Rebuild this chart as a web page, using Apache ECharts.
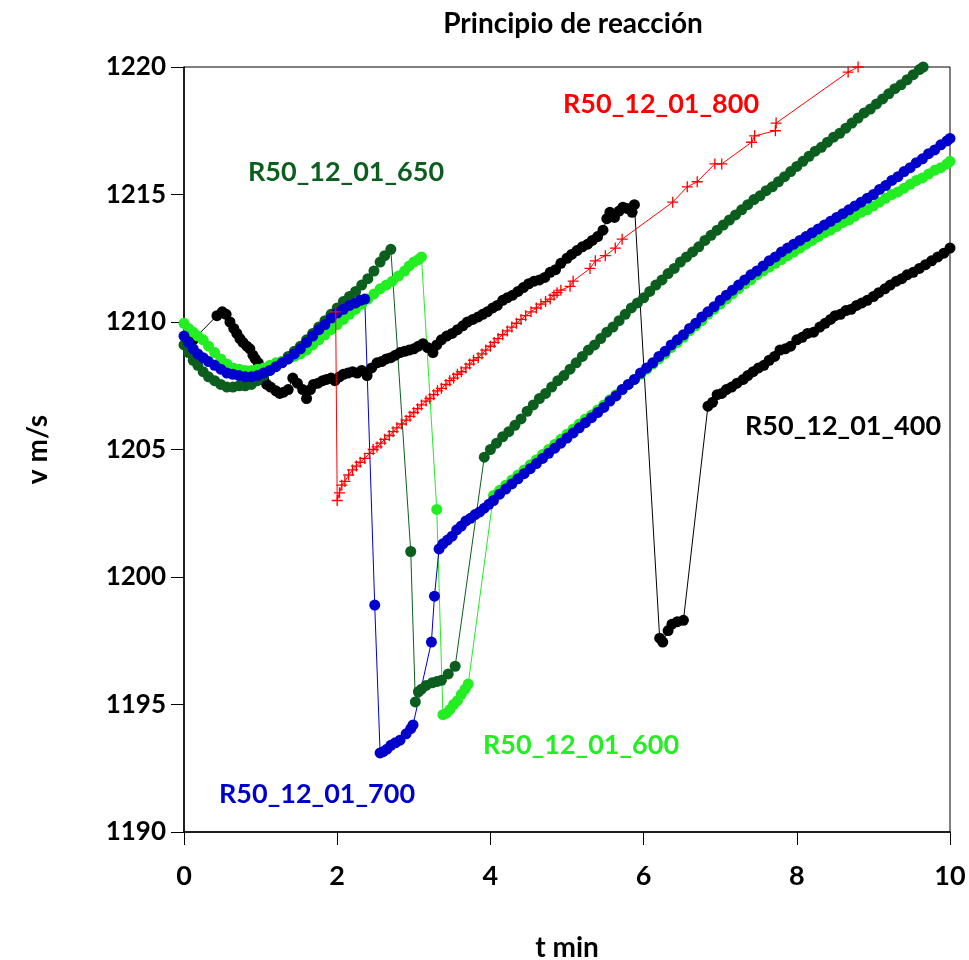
<!DOCTYPE html>
<html>
<head>
<meta charset="utf-8">
<script src="https://cdn.jsdelivr.net/npm/echarts@6/dist/echarts.min.js"></script>
<style>
  html, body { margin: 0; padding: 0; background: #fff; }
  #chart { width: 969px; height: 960px; }
</style>
</head>
<body>
<div id="chart"></div>
<script>
// Axis settings
const xTicks = [0, 2, 4, 6, 8, 10];
const yTicks = [1190, 1195, 1200, 1205, 1210, 1215, 1220];

// Series names
const seriesNames = ['R50_12_01_400', 'R50_12_01_650', 'R50_12_01_600', 'R50_12_01_700', 'R50_12_01_800'];

// [t min, v m/s] readings for each run
const run400 = [[0.12,1209.3],[0.43,1210.25],[0.5,1210.4],[0.55,1210.3],[0.6,1210.0],[0.65,1209.75],[0.69,1209.55],[0.73,1209.35],[0.77,1209.2],[0.82,1209.05],[0.86,1208.95],[0.9,1208.7],[0.93,1208.55],[0.97,1208.4],[1.0,1208.2],[1.04,1207.75],[1.08,1207.55],[1.13,1207.45],[1.2,1207.3],[1.25,1207.2],[1.3,1207.25],[1.36,1207.35],[1.42,1207.8],[1.48,1207.6],[1.55,1207.35],[1.6,1207.0],[1.65,1207.35],[1.69,1207.55],[1.75,1207.6],[1.81,1207.7],[1.86,1207.75],[1.92,1207.8],[1.97,1207.7],[2.03,1207.85],[2.08,1207.95],[2.14,1208.0],[2.2,1208.05],[2.26,1208.0],[2.32,1208.1],[2.39,1207.9],[2.45,1208.2],[2.52,1208.4],[2.58,1208.45],[2.64,1208.55],[2.7,1208.6],[2.76,1208.7],[2.82,1208.8],[2.88,1208.85],[2.94,1208.9],[3.0,1208.95],[3.06,1209.05],[3.12,1209.15],[3.18,1209.0],[3.25,1208.8],[3.3,1209.1],[3.36,1209.3],[3.43,1209.45],[3.5,1209.55],[3.57,1209.7],[3.64,1209.85],[3.7,1210.0],[3.77,1210.1],[3.84,1210.2],[3.9,1210.3],[3.96,1210.4],[4.03,1210.55],[4.09,1210.65],[4.16,1210.85],[4.22,1210.95],[4.29,1211.05],[4.36,1211.2],[4.43,1211.35],[4.5,1211.5],[4.57,1211.6],[4.64,1211.65],[4.71,1211.75],[4.78,1211.95],[4.85,1212.05],[4.92,1212.3],[5.0,1212.5],[5.06,1212.65],[5.13,1212.8],[5.2,1212.95],[5.27,1213.05],[5.33,1213.2],[5.4,1213.35],[5.47,1213.6],[5.52,1214.05],[5.56,1214.3],[5.62,1214.1],[5.68,1214.35],[5.73,1214.5],[5.79,1214.45],[5.85,1214.3],[5.88,1214.6],[6.21,1197.6],[6.25,1197.45],[6.32,1197.9],[6.37,1198.15],[6.44,1198.25],[6.52,1198.3],[6.84,1206.7],[6.9,1206.85],[6.96,1207.15],[7.02,1207.2],[7.08,1207.35],[7.15,1207.45],[7.22,1207.6],[7.3,1207.75],[7.36,1207.9],[7.43,1208.05],[7.5,1208.2],[7.57,1208.3],[7.64,1208.5],[7.71,1208.65],[7.78,1208.9],[7.85,1208.95],[7.92,1209.05],[8.0,1209.3],[8.07,1209.4],[8.14,1209.55],[8.22,1209.6],[8.3,1209.8],[8.37,1209.95],[8.44,1210.1],[8.5,1210.25],[8.57,1210.3],[8.64,1210.45],[8.71,1210.5],[8.78,1210.65],[8.85,1210.75],[8.92,1210.85],[9.0,1211.0],[9.07,1211.15],[9.15,1211.3],[9.22,1211.45],[9.3,1211.6],[9.37,1211.7],[9.44,1211.85],[9.52,1211.95],[9.6,1212.1],[9.68,1212.25],[9.76,1212.4],[9.84,1212.55],[9.92,1212.7],[10.0,1212.9]];

const run650 = [[0,1209.1],[0.06,1208.8],[0.12,1208.5],[0.18,1208.3],[0.25,1208.05],[0.32,1207.85],[0.4,1207.7],[0.48,1207.55],[0.56,1207.45],[0.64,1207.45],[0.72,1207.5],[0.8,1207.5],[0.88,1207.55],[0.96,1207.7],[1.04,1207.9],[1.12,1208.1],[1.2,1208.3],[1.28,1208.45],[1.36,1208.65],[1.44,1208.85],[1.52,1209.05],[1.6,1209.3],[1.68,1209.55],[1.76,1209.8],[1.84,1210.05],[1.92,1210.3],[2.0,1210.55],[2.08,1210.8],[2.16,1211.0],[2.24,1211.2],[2.32,1211.45],[2.4,1211.7],[2.48,1212.0],[2.56,1212.35],[2.62,1212.6],[2.7,1212.85],[2.96,1201.0],[3.02,1195.1],[3.06,1195.5],[3.1,1195.6],[3.16,1195.75],[3.24,1195.85],[3.3,1195.9],[3.36,1195.95],[3.45,1196.2],[3.54,1196.5],[3.92,1204.7],[4.0,1205.0],[4.08,1205.25],[4.16,1205.5],[4.24,1205.7],[4.32,1205.95],[4.4,1206.2],[4.48,1206.5],[4.56,1206.75],[4.64,1207.0],[4.72,1207.2],[4.8,1207.45],[4.88,1207.7],[4.96,1207.9],[5.04,1208.15],[5.12,1208.4],[5.2,1208.65],[5.28,1208.9],[5.36,1209.1],[5.44,1209.35],[5.52,1209.6],[5.6,1209.8],[5.68,1210.05],[5.76,1210.3],[5.84,1210.55],[5.92,1210.75],[6.0,1210.95],[6.08,1211.2],[6.16,1211.45],[6.24,1211.65],[6.32,1211.9],[6.4,1212.1],[6.48,1212.35],[6.56,1212.55],[6.64,1212.75],[6.72,1212.95],[6.8,1213.2],[6.88,1213.4],[6.96,1213.6],[7.04,1213.8],[7.12,1214.0],[7.2,1214.2],[7.28,1214.4],[7.36,1214.6],[7.44,1214.8],[7.52,1214.95],[7.6,1215.15],[7.68,1215.3],[7.76,1215.5],[7.84,1215.7],[7.92,1215.9],[8.0,1216.1],[8.08,1216.3],[8.16,1216.5],[8.24,1216.7],[8.32,1216.85],[8.4,1217.05],[8.48,1217.25],[8.56,1217.4],[8.64,1217.6],[8.72,1217.8],[8.8,1218.0],[8.88,1218.2],[8.96,1218.35],[9.04,1218.55],[9.12,1218.75],[9.2,1218.95],[9.28,1219.15],[9.36,1219.3],[9.44,1219.5],[9.52,1219.7],[9.6,1219.9],[9.65,1220.0]];

const run600 = [[0,1209.95],[0.06,1209.75],[0.12,1209.6],[0.18,1209.45],[0.25,1209.3],[0.32,1209.05],[0.4,1208.8],[0.48,1208.55],[0.56,1208.35],[0.64,1208.2],[0.72,1208.15],[0.8,1208.1],[0.88,1208.1],[0.96,1208.15],[1.04,1208.2],[1.12,1208.3],[1.2,1208.4],[1.28,1208.45],[1.36,1208.55],[1.44,1208.65],[1.52,1208.75],[1.6,1208.9],[1.68,1209.1],[1.76,1209.3],[1.84,1209.5],[1.92,1209.7],[2.0,1209.9],[2.08,1210.1],[2.16,1210.3],[2.24,1210.5],[2.32,1210.7],[2.4,1210.9],[2.48,1211.1],[2.56,1211.3],[2.64,1211.45],[2.72,1211.6],[2.8,1211.8],[2.88,1212.0],[2.94,1212.2],[3.0,1212.35],[3.06,1212.45],[3.1,1212.55],[3.3,1202.65],[3.38,1194.6],[3.42,1194.65],[3.47,1194.8],[3.52,1195.0],[3.57,1195.15],[3.62,1195.4],[3.67,1195.6],[3.71,1195.8],[4.04,1203.2],[4.12,1203.4],[4.2,1203.6],[4.28,1203.8],[4.36,1204.0],[4.44,1204.2],[4.52,1204.4],[4.6,1204.6],[4.68,1204.8],[4.76,1205.0],[4.84,1205.2],[4.92,1205.4],[5.0,1205.6],[5.08,1205.8],[5.16,1206.0],[5.24,1206.2],[5.32,1206.35],[5.4,1206.55],[5.48,1206.75],[5.56,1206.95],[5.64,1207.15],[5.72,1207.35],[5.8,1207.55],[5.88,1207.75],[5.96,1207.95],[6.04,1208.15],[6.12,1208.35],[6.2,1208.55],[6.28,1208.75],[6.36,1209.0],[6.44,1209.2],[6.52,1209.4],[6.6,1209.65],[6.68,1209.85],[6.76,1210.05],[6.84,1210.3],[6.92,1210.5],[7.0,1210.7],[7.08,1210.9],[7.16,1211.1],[7.24,1211.3],[7.32,1211.5],[7.4,1211.65],[7.48,1211.85],[7.56,1212.0],[7.64,1212.15],[7.72,1212.3],[7.8,1212.45],[7.88,1212.6],[7.96,1212.75],[8.04,1212.9],[8.12,1213.05],[8.2,1213.2],[8.28,1213.35],[8.36,1213.5],[8.44,1213.6],[8.52,1213.75],[8.6,1213.9],[8.68,1214.0],[8.76,1214.15],[8.84,1214.3],[8.92,1214.4],[9.0,1214.55],[9.08,1214.7],[9.16,1214.85],[9.24,1215.0],[9.32,1215.1],[9.4,1215.25],[9.48,1215.4],[9.56,1215.55],[9.64,1215.65],[9.72,1215.8],[9.8,1215.95],[9.88,1216.05],[9.96,1216.2],[10.0,1216.3]];

const run700 = [[0,1209.45],[0.06,1209.2],[0.12,1208.95],[0.18,1208.75],[0.25,1208.6],[0.32,1208.45],[0.4,1208.3],[0.48,1208.15],[0.56,1208.0],[0.64,1207.95],[0.72,1207.9],[0.8,1207.85],[0.88,1207.85],[0.96,1207.9],[1.04,1208.0],[1.12,1208.1],[1.2,1208.25],[1.28,1208.4],[1.36,1208.55],[1.44,1208.75],[1.52,1208.95],[1.6,1209.2],[1.68,1209.45],[1.76,1209.7],[1.84,1209.9],[1.92,1210.15],[2.0,1210.35],[2.08,1210.5],[2.16,1210.65],[2.24,1210.75],[2.3,1210.85],[2.36,1210.9],[2.49,1198.9],[2.56,1193.1],[2.6,1193.15],[2.65,1193.25],[2.7,1193.4],[2.76,1193.5],[2.82,1193.6],[2.9,1193.85],[2.96,1194.05],[2.99,1194.2],[3.23,1197.45],[3.27,1199.25],[3.33,1201.1],[3.38,1201.3],[3.44,1201.45],[3.5,1201.6],[3.56,1201.85],[3.62,1202.0],[3.68,1202.2],[3.74,1202.3],[3.8,1202.45],[3.86,1202.55],[3.92,1202.7],[3.98,1202.85],[4.04,1203.0],[4.12,1203.25],[4.2,1203.45],[4.28,1203.65],[4.36,1203.85],[4.44,1204.05],[4.52,1204.25],[4.6,1204.45],[4.68,1204.65],[4.76,1204.85],[4.84,1205.05],[4.92,1205.25],[5.0,1205.45],[5.08,1205.65],[5.16,1205.85],[5.24,1206.05],[5.32,1206.25],[5.4,1206.45],[5.48,1206.65],[5.56,1206.9],[5.64,1207.1],[5.72,1207.35],[5.8,1207.55],[5.88,1207.75],[5.96,1208.0],[6.04,1208.2],[6.12,1208.4],[6.2,1208.65],[6.28,1208.85],[6.36,1209.1],[6.44,1209.3],[6.52,1209.5],[6.6,1209.75],[6.68,1209.95],[6.76,1210.2],[6.84,1210.4],[6.92,1210.6],[7.0,1210.85],[7.08,1211.05],[7.16,1211.25],[7.24,1211.45],[7.32,1211.65],[7.4,1211.85],[7.48,1212.0],[7.56,1212.2],[7.64,1212.4],[7.72,1212.55],[7.8,1212.75],[7.88,1212.9],[7.96,1213.05],[8.04,1213.2],[8.12,1213.35],[8.2,1213.5],[8.28,1213.65],[8.36,1213.8],[8.44,1213.95],[8.52,1214.1],[8.6,1214.25],[8.68,1214.4],[8.76,1214.55],[8.84,1214.7],[8.92,1214.85],[9.0,1215.0],[9.08,1215.2],[9.16,1215.35],[9.24,1215.55],[9.32,1215.7],[9.4,1215.9],[9.48,1216.05],[9.56,1216.25],[9.64,1216.4],[9.72,1216.6],[9.8,1216.75],[9.88,1216.95],[9.96,1217.1],[10.0,1217.2]];

const run800 = [[1.98,1210.4],[2.0,1203.0],[2.03,1203.3],[2.06,1203.6],[2.1,1203.75],[2.15,1204.0],[2.2,1204.2],[2.25,1204.35],[2.3,1204.5],[2.36,1204.65],[2.42,1204.85],[2.47,1205.0],[2.52,1205.1],[2.57,1205.25],[2.62,1205.4],[2.68,1205.55],[2.73,1205.7],[2.78,1205.85],[2.84,1206.0],[2.9,1206.15],[2.95,1206.3],[3.0,1206.45],[3.05,1206.6],[3.1,1206.75],[3.16,1206.9],[3.21,1207.0],[3.26,1207.15],[3.31,1207.3],[3.36,1207.4],[3.42,1207.55],[3.47,1207.7],[3.52,1207.8],[3.57,1207.95],[3.62,1208.05],[3.68,1208.2],[3.73,1208.35],[3.78,1208.5],[3.84,1208.6],[3.89,1208.75],[3.94,1208.9],[4.0,1209.05],[4.05,1209.2],[4.1,1209.35],[4.16,1209.5],[4.22,1209.65],[4.28,1209.8],[4.34,1209.95],[4.4,1210.1],[4.46,1210.25],[4.53,1210.4],[4.6,1210.55],[4.66,1210.7],[4.72,1210.8],[4.78,1210.9],[4.83,1211.05],[4.87,1211.15],[4.92,1211.25],[5.04,1211.4],[5.08,1211.6],[5.3,1212.1],[5.37,1212.4],[5.5,1212.6],[5.63,1212.9],[5.72,1213.25],[6.38,1214.7],[6.57,1215.3],[6.7,1215.5],[6.93,1216.2],[7.02,1216.2],[7.41,1217.05],[7.45,1217.3],[7.72,1217.5],[7.73,1217.8],[8.67,1219.8],[8.8,1220.0]];

// Colours per run
const colors = {
  r400: '#000000',
  r650: '#0b5e1e',
  r600: '#22ee22',
  r700: '#0000cc',
  r800: '#ff0000'
};

const FONT = 'Lato';
const plusPath = 'path://M4.4,0 L5.6,0 L5.6,4.4 L10,4.4 L10,5.6 L5.6,5.6 L5.6,10 L4.4,10 L4.4,5.6 L0,5.6 L0,4.4 L4.4,4.4 Z';

function dotSeries(name, data, color) {
  return {
    name: name,
    type: 'line',
    data: data,
    symbol: 'circle',
    symbolSize: 11,
    showAllSymbol: true,
    itemStyle: { color: color },
    lineStyle: { color: color, width: 1 },
    emphasis: { disabled: true },
    z: 2
  };
}

const chart = echarts.init(document.getElementById('chart'), null, { renderer: 'canvas' });

chart.setOption({
  animation: false,
  backgroundColor: '#ffffff',
  title: {
    text: 'Principio de reacción',
    left: 568,
    top: 5,
    textAlign: 'center',
    textStyle: { fontFamily: FONT, fontWeight: 'bold', fontSize: 28, color: '#000' }
  },
  grid: {
    left: 184, right: 19, top: 67, bottom: 128,
    outerBoundsMode: 'none',
    containLabel: false,
    show: true, borderColor: '#000', borderWidth: 1, backgroundColor: 'transparent'
  },
  xAxis: {
    type: 'value',
    min: xTicks[0], max: xTicks[xTicks.length - 1], interval: 2,
    name: 't min', nameLocation: 'middle', nameGap: 102,
    nameTextStyle: { fontFamily: FONT, fontWeight: 'bold', fontSize: 28, color: '#000' },
    axisLine: { show: true, onZero: false, lineStyle: { color: '#000', width: 1.5 } },
    axisTick: { show: true, inside: false, length: 13, lineStyle: { color: '#000', width: 1 } },
    axisLabel: { margin: 31, fontFamily: FONT, fontWeight: 'bold', fontSize: 27, color: '#000',
                 formatter: v => String(v) },
    splitLine: { show: false }
  },
  yAxis: {
    type: 'value',
    min: yTicks[0], max: yTicks[yTicks.length - 1], interval: 5,
    name: 'v m/s', nameLocation: 'middle', nameGap: 132,
    nameTextStyle: { fontFamily: FONT, fontWeight: 'bold', fontSize: 28, color: '#000' },
    axisLine: { show: true, onZero: false, lineStyle: { color: '#000', width: 1.5 } },
    axisTick: { show: true, inside: false, length: 13, lineStyle: { color: '#000', width: 1 } },
    axisLabel: { margin: 18, fontFamily: FONT, fontWeight: 'bold', fontSize: 26, color: '#000',
                 formatter: v => String(v) },
    splitLine: { show: false }
  },
  series: [
    dotSeries(seriesNames[0], run400, colors.r400),
    dotSeries(seriesNames[1], run650, colors.r650),
    dotSeries(seriesNames[2], run600, colors.r600),
    dotSeries(seriesNames[3], run700, colors.r700),
    {
      name: seriesNames[4],
      type: 'line',
      data: run800,
      symbol: plusPath,
      symbolSize: 11,
      showAllSymbol: true,
      itemStyle: { color: colors.r800 },
      lineStyle: { color: colors.r800, width: 1 },
      emphasis: { disabled: true },
      z: 3
    }
  ],
  graphic: [
    { type: 'text', left: 248, top: 159, style: { text: seriesNames[1], fill: colors.r650, font: 'bold 27px Lato' } },
    { type: 'text', left: 563, top: 91, style: { text: seriesNames[4], fill: colors.r800, font: 'bold 27px Lato' } },
    { type: 'text', left: 745, top: 413, style: { text: seriesNames[0], fill: colors.r400, font: 'bold 27px Lato' } },
    { type: 'text', left: 483, top: 732, style: { text: seriesNames[2], fill: colors.r600, font: 'bold 27px Lato' } },
    { type: 'text', left: 219, top: 781, style: { text: seriesNames[3], fill: colors.r700, font: 'bold 27px Lato' } }
  ]
});
</script>
</body>
</html>
